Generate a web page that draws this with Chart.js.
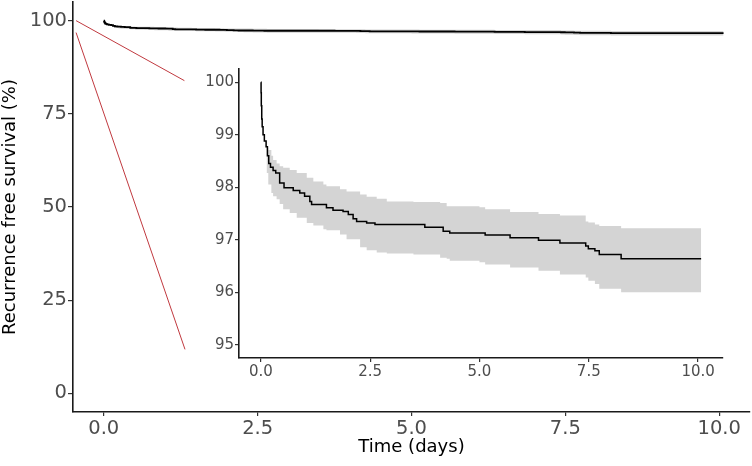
<!DOCTYPE html>
<html>
<head>
<meta charset="utf-8">
<script src="https://cdn.jsdelivr.net/npm/chart.js@4/dist/chart.umd.min.js"></script>
<style>
  html, body { margin: 0; padding: 0; background: #fff; }
  #wrap { position: relative; width: 752px; height: 466px; }
  #mainChart { position: absolute; left: 0; top: 0; }
  #insetChart { position: absolute; left: 180px; top: 60px; }
</style>
</head>
<body>
<div id="wrap">
  <canvas id="mainChart" width="752" height="466"></canvas>
  <canvas id="insetChart" width="552" height="340"></canvas>
</div>
<script>
// Kaplan-Meier estimate (time in days, survival in %)
const kmTime = [0, 0.005, 0.01, 0.02, 0.03, 0.05, 0.08, 0.12, 0.15, 0.18, 0.22, 0.28, 0.34, 0.43, 0.53, 0.74, 0.89, 1.0, 1.12, 1.16, 1.5, 1.65, 1.88, 2.0, 2.11, 2.19, 2.42, 2.61, 3.75, 4.17, 4.32, 5.13, 5.7, 6.35, 6.84, 7.43, 7.49, 7.64, 7.74, 8.24, 10.07];
const kmSurv = [100, 99.8, 99.55, 99.3, 99.15, 99.0, 98.88, 98.77, 98.6, 98.45, 98.38, 98.32, 98.27, 98.08, 97.99, 97.94, 97.89, 97.83, 97.73, 97.67, 97.61, 97.56, 97.54, 97.48, 97.4, 97.35, 97.32, 97.29, 97.24, 97.16, 97.13, 97.09, 97.04, 96.99, 96.94, 96.88, 96.83, 96.79, 96.72, 96.64, 96.64];

// confidence band
const ciTime  = [0.13, 0.17, 0.24, 0.28, 0.36, 0.43, 0.51, 0.66, 0.82, 1.05, 1.2, 1.43, 1.5, 1.81, 1.96, 2.27, 2.42, 2.65, 2.88, 3.49, 4.1, 4.25, 4.32, 5.0, 5.13, 5.7, 6.35, 6.84, 7.43, 7.49, 7.64, 7.74, 8.24, 10.07];
const ciUpper = [98.75, 98.71, 98.6, 98.52, 98.45, 98.4, 98.37, 98.33, 98.27, 98.18, 98.11, 98.05, 98.02, 97.96, 97.92, 97.86, 97.82, 97.78, 97.73, 97.72, 97.7, 97.64, 97.64, 97.62, 97.58, 97.53, 97.49, 97.46, 97.35, 97.33, 97.29, 97.26, 97.22, 97.22];
const ciLower = [98.27, 98.05, 97.89, 97.83, 97.77, 97.68, 97.58, 97.51, 97.42, 97.32, 97.27, 97.2, 97.18, 97.1, 97.01, 96.86, 96.8, 96.76, 96.74, 96.72, 96.66, 96.64, 96.6, 96.57, 96.53, 96.47, 96.41, 96.34, 96.28, 96.22, 96.16, 96.07, 96.0, 96.0];

// zoom guide lines (main plot data units)
const guideTop    = [[-0.45, 100], [1.31, 83.9]];
const guideBottom = [[-0.45, 96.8], [1.32, 11.8]];

// tick labels
const mainXTicks = [0, 2.5, 5, 7.5, 10];
const mainYTicks = [0, 25, 50, 75, 100];
const insetXTicks = [0, 2.5, 5, 7.5, 10];
const insetYTicks = [95, 96, 97, 98, 99, 100];

const FONT = "'DejaVu Sans', Verdana, sans-serif";
const pts = (xs, ys) => xs.map((x, i) => ({ x: x, y: ys[i] }));
const seg = (p) => p.map(d => ({ x: d[0], y: d[1] }));

// curve first so it is painted on top of the band
function curveSets(lineWidth) {
  return [
    { data: pts(kmTime, kmSurv), stepped: 'before', borderColor: '#000', borderWidth: lineWidth,
      pointRadius: 0, fill: false },
    { data: pts(ciTime, ciLower), stepped: 'before', borderWidth: 0, pointRadius: 0, fill: false },
    { data: pts(ciTime, ciUpper), stepped: 'before', borderWidth: 0, pointRadius: 0,
      fill: '-1', backgroundColor: '#d4d4d4' }
  ];
}

function axis(min, max, ticks, fmt, fontSize, tickLen, extra) {
  return Object.assign({
    type: 'linear', min: min, max: max,
    afterBuildTicks: s => { s.ticks = ticks.map(v => ({ value: v })); },
    ticks: { callback: fmt, color: '#4d4d4d', font: { family: FONT, size: fontSize }, padding: 1, autoSkip: false, maxRotation: 0 },
    grid: { drawOnChartArea: false, drawTicks: true, tickLength: tickLen, color: '#333', lineWidth: 1.2 },
    border: { display: true, color: '#1a1a1a', width: 1.6 }
  }, extra);
}

const common = {
  responsive: false, animation: false, devicePixelRatio: 1,
  plugins: { legend: { display: false }, tooltip: { enabled: false } },
  elements: { line: { tension: 0 } }
};

// main plot
new Chart(document.getElementById('mainChart'), {
  type: 'line',
  data: {
    datasets: curveSets(1.8).concat([
      { data: seg(guideTop), borderColor: '#c0393f', borderWidth: 1, pointRadius: 0, fill: false },
      { data: seg(guideBottom), borderColor: '#c0393f', borderWidth: 1, pointRadius: 0, fill: false }
    ])
  },
  options: Object.assign({}, common, {
    layout: { padding: { top: 2, right: 2, left: 0, bottom: 0 } },
    scales: {
      x: axis(-0.5, 10.5, mainXTicks, v => v.toFixed(1), 19.5, 4, {
        title: { display: true, text: 'Time (days)', color: '#000', font: { family: FONT, size: 18 }, padding: { top: 0, bottom: 8 } },
        afterFit: s => { s.height = 54; s.paddingLeft = 0; s.paddingRight = 0; }
      }),
      y: axis(-5, 105, mainYTicks, v => String(v), 19.5, 5, {
        title: { display: true, text: 'Recurrence free survival (%)', color: '#000', font: { family: FONT, size: 18 }, padding: { top: 0, bottom: 0 } },
        afterFit: s => { s.width = 73; s.paddingTop = 0; s.paddingBottom = 0; }
      })
    }
  })
});

// inset plot
new Chart(document.getElementById('insetChart'), {
  type: 'line',
  data: { datasets: curveSets(1.5) },
  options: Object.assign({}, common, {
    layout: { padding: { top: 9, right: 9, left: 0, bottom: 0 } },
    scales: {
      x: axis(-0.5, 10.57, insetXTicks, v => v.toFixed(1), 15, 4, {
        afterFit: s => { s.height = 42; s.paddingLeft = 0; s.paddingRight = 0; }
      }),
      y: axis(94.75, 100.25, insetYTicks, v => String(v), 15, 4, {
        afterFit: s => { s.width = 59; s.paddingTop = 0; s.paddingBottom = 0; }
      })
    }
  })
});
</script>
</body>
</html>
